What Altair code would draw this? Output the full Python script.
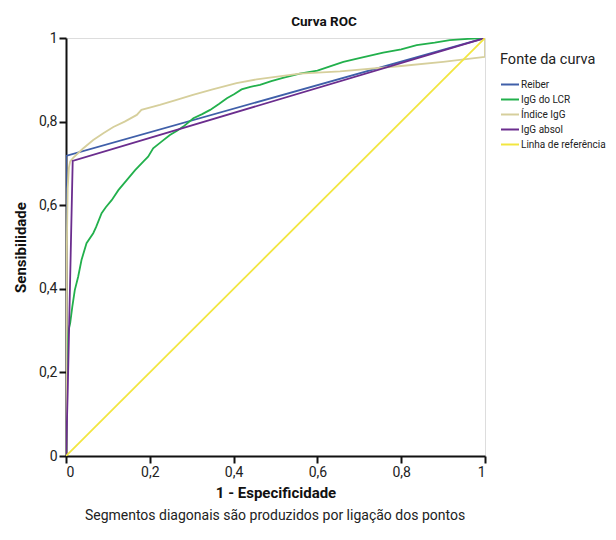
import altair as alt
import pandas as pd

series_names = ["Reiber", "IgG do LCR", "Índice IgG", "IgG absol", "Linha de referência"]
series_colors = ["#3f5fa9", "#22b04c", "#d6cf9c", "#6b2d8e", "#f2e640"]

reiber_x = [0.0, 0.0, 1.0]
reiber_y = [0.0, 0.718, 1.0]

lcr_x = [0.0, 0.001, 0.003, 0.006, 0.010, 0.015, 0.021, 0.029, 0.037, 0.049, 0.065, 0.072,
         0.085, 0.095, 0.109, 0.125, 0.145, 0.165, 0.185, 0.196, 0.208, 0.228, 0.248, 0.265,
         0.280, 0.304, 0.325, 0.344, 0.365, 0.384, 0.402, 0.419, 0.440, 0.463, 0.490, 0.520,
         0.558, 0.600, 0.630, 0.662, 0.700, 0.757, 0.800, 0.837, 0.880, 0.916, 0.960, 1.0]
lcr_y = [0.0, 0.150, 0.270, 0.300, 0.318, 0.357, 0.397, 0.429, 0.469, 0.509, 0.533, 0.548,
         0.581, 0.595, 0.612, 0.636, 0.660, 0.684, 0.705, 0.716, 0.736, 0.752, 0.768, 0.778,
         0.788, 0.808, 0.818, 0.828, 0.842, 0.856, 0.866, 0.877, 0.883, 0.888, 0.897, 0.905,
         0.915, 0.922, 0.932, 0.943, 0.952, 0.965, 0.973, 0.983, 0.989, 0.995, 0.998, 1.0]

ind_x = [0.0, 0.002, 0.004, 0.007, 0.010, 0.017, 0.040, 0.065, 0.090, 0.113, 0.140, 0.169,
         0.180, 0.224, 0.260, 0.303, 0.350, 0.407, 0.455, 0.558, 0.654, 0.800, 0.900, 1.0, 1.0]
ind_y = [0.0, 0.500, 0.640, 0.690, 0.705, 0.713, 0.735, 0.756, 0.773, 0.787, 0.800, 0.816,
         0.828, 0.840, 0.851, 0.864, 0.877, 0.892, 0.901, 0.915, 0.920, 0.933, 0.943, 0.955, 1.0]

absol_x = [0.0, 0.004, 0.016, 1.0]
absol_y = [0.0, 0.150, 0.706, 1.0]

ref_x = [0.0, 1.0]
ref_y = [0.0, 1.0]

rows = []
for name, xs, ys in zip(series_names,
                        [reiber_x, lcr_x, ind_x, absol_x, ref_x],
                        [reiber_y, lcr_y, ind_y, absol_y, ref_y]):
    for i, (a, b) in enumerate(zip(xs, ys)):
        rows.append({"serie": name, "x": a, "y": b, "ord": i})
df = pd.DataFrame(rows)

FONT = "Roboto"
lbl = "datum.value == 0 ? '0' : datum.value == 1 ? '1' : replace(format(datum.value, '.1f'), '.', ',')"

common_axis = dict(values=[0, 0.2, 0.4, 0.6, 0.8, 1], labelExpr=lbl, grid=False,
                   domainColor="#111", domainWidth=2, tickColor="#111", tickWidth=2,
                   tickSize=7, labelFontSize=14, labelColor="#222", labelPadding=2,
                   titleFontSize=15, titleFontWeight="bold", titleColor="#111")

lines = alt.Chart(df).mark_line(strokeWidth=1.8, clip=True).encode(
    x=alt.X("x:Q", scale=alt.Scale(domain=[0, 1], nice=False),
            axis=alt.Axis(title="1 - Especificidade", titlePadding=6, **common_axis)),
    y=alt.Y("y:Q", scale=alt.Scale(domain=[0, 1], nice=False),
            axis=alt.Axis(title="Sensibilidade", titlePadding=10, **common_axis)),
    color=alt.Color("serie:N", scale=alt.Scale(domain=series_names, range=series_colors),
                    legend=alt.Legend(title="Fonte da curva", orient="none", legendX=434,
                                      legendY=15, symbolType="stroke", symbolStrokeWidth=2,
                                      symbolSize=324, labelFontSize=10, labelColor="#222",
                                      titleFontSize=14.5, titleFontWeight="normal",
                                      titleColor="#222", titlePadding=7, rowPadding=-3.3,
                                      labelOffset=1)),
    order="ord:Q",
)

title_txt = alt.Chart(pd.DataFrame({"t": ["Curva ROC"]})).mark_text(
    fontSize=13.5, fontWeight="bold", color="#111", align="center", baseline="middle"
).encode(text="t:N", x=alt.value(258), y=alt.value(-16))

footer = alt.Chart(pd.DataFrame({"t": ["Segmentos diagonais são produzidos por ligação dos pontos"]})).mark_text(
    fontSize=14, color="#222", align="center", baseline="middle"
).encode(text="t:N", x=alt.value(209), y=alt.value(478))

chart = alt.layer(lines, title_txt, footer).properties(
    width=419, height=418,
    autosize=alt.AutoSizeParams(type="none"),
    padding={"left": 58, "top": 30, "right": 123, "bottom": 68},
).configure_view(
    fill="#f0f1f0", stroke="#808080", strokeWidth=2
).configure(font=FONT)

chart.save("out.html", embed_options={"renderer": "svg", "actions": False})
